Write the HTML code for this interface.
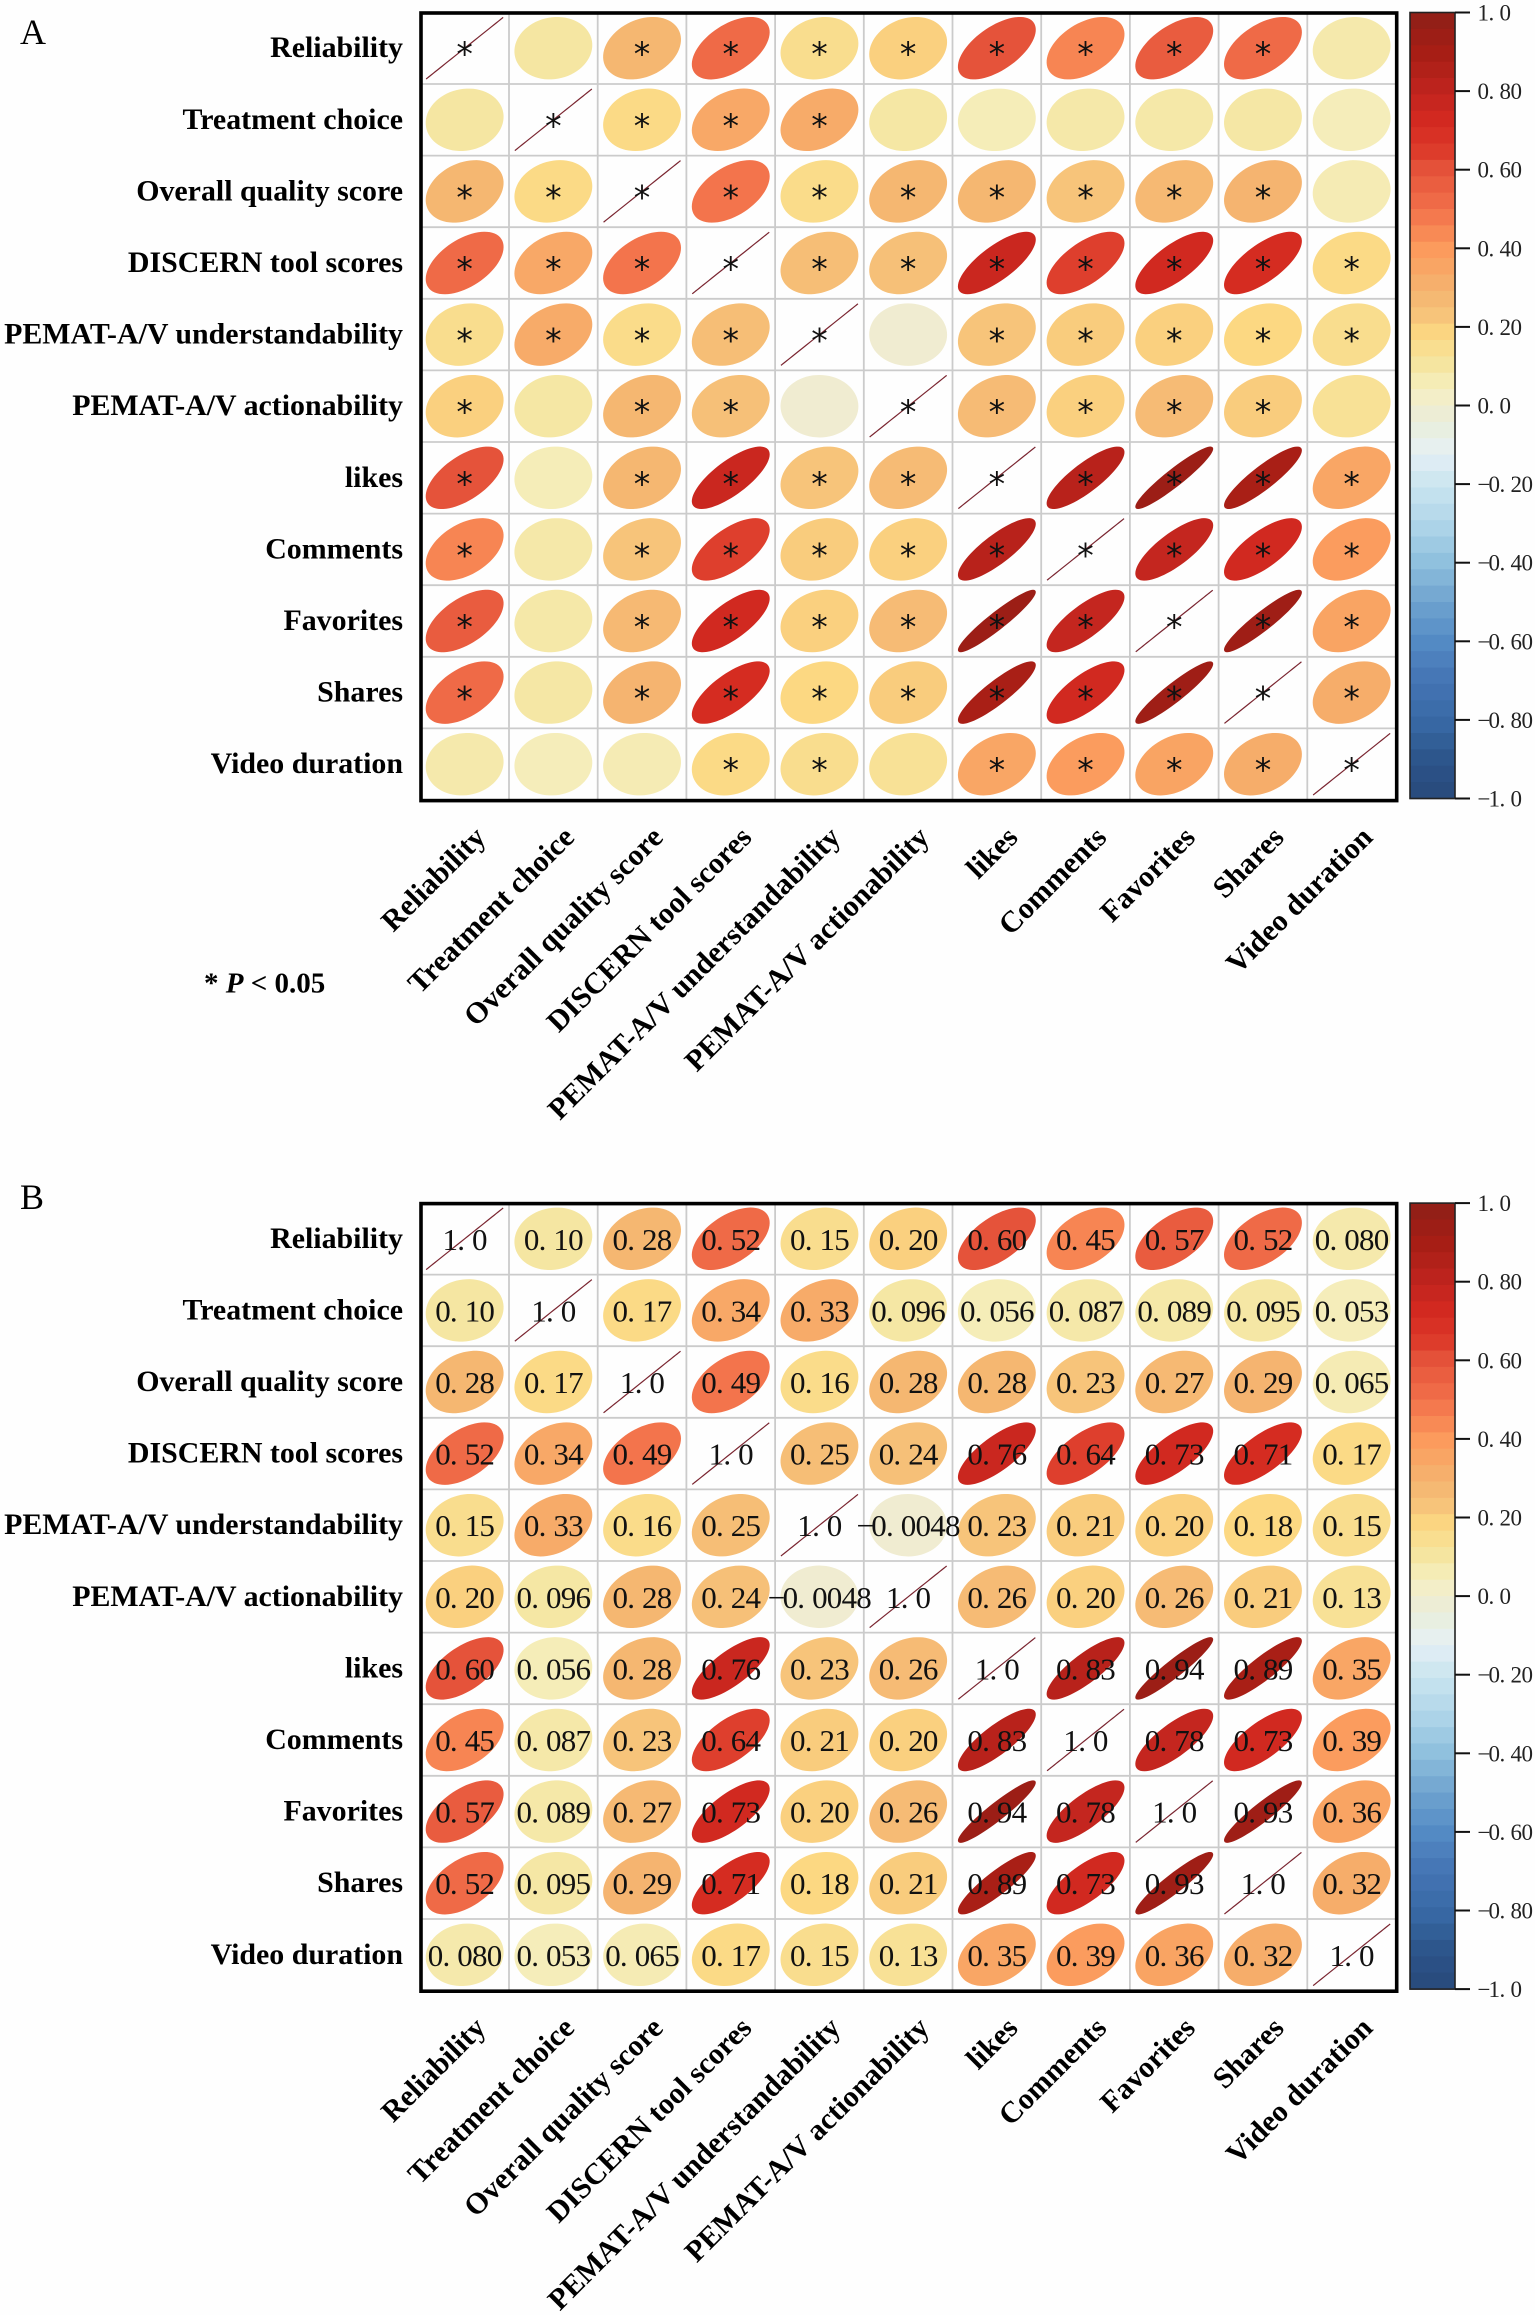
<!DOCTYPE html>
<html lang="en">
<head>
<meta charset="utf-8">
<title>Correlation matrices A and B</title>
<style>
html,body{margin:0;padding:0;background:#fff;}
svg{display:block;}
text{font-family:"Liberation Serif",serif;fill:#000;}
.row-label,.col-label{font-weight:bold;font-size:29.9px;}
.p-note{font-weight:bold;font-size:29px;}
.panel-letter{font-size:36px;}
.value{font-size:31px;fill:#111;}
.cb-label{font-size:23px;fill:#222;}
.star{font-family:"DejaVu Sans",sans-serif;font-size:33px;fill:#111;}
</style>
</head>
<body>
<svg id="figure" xmlns="http://www.w3.org/2000/svg" width="1535" height="2315" viewBox="0 0 1535 2315">
  <rect x="0" y="0" width="1535" height="2315" fill="#fefefe"/>
  <text class="panel-letter" x="20" y="44">A</text>
  <text class="panel-letter" x="20" y="1209">B</text>
  <text class="p-note" x="204" y="992.5">* <tspan font-style="italic">P</tspan> &lt; 0.05</text>
</svg>
<script>
const variables = ["Reliability","Treatment choice","Overall quality score","DISCERN tool scores","PEMAT-A/V understandability","PEMAT-A/V actionability","likes","Comments","Favorites","Shares","Video duration"];
const rReliability = [1.0,0.10,0.28,0.52,0.15,0.20,0.60,0.45,0.57,0.52,0.080];
const rTreatment   = [0.10,1.0,0.17,0.34,0.33,0.096,0.056,0.087,0.089,0.095,0.053];
const rOverall     = [0.28,0.17,1.0,0.49,0.16,0.28,0.28,0.23,0.27,0.29,0.065];
const rDiscern     = [0.52,0.34,0.49,1.0,0.25,0.24,0.76,0.64,0.73,0.71,0.17];
const rUnderstand  = [0.15,0.33,0.16,0.25,1.0,-0.0048,0.23,0.21,0.20,0.18,0.15];
const rAction      = [0.20,0.096,0.28,0.24,-0.0048,1.0,0.26,0.20,0.26,0.21,0.13];
const rLikes       = [0.60,0.056,0.28,0.76,0.23,0.26,1.0,0.83,0.94,0.89,0.35];
const rComments    = [0.45,0.087,0.23,0.64,0.21,0.20,0.83,1.0,0.78,0.73,0.39];
const rFavorites   = [0.57,0.089,0.27,0.73,0.20,0.26,0.94,0.78,1.0,0.93,0.36];
const rShares      = [0.52,0.095,0.29,0.71,0.18,0.21,0.89,0.73,0.93,1.0,0.32];
const rDuration    = [0.080,0.053,0.065,0.17,0.15,0.13,0.35,0.39,0.36,0.32,1.0];
const correlationRows = [rReliability,rTreatment,rOverall,rDiscern,rUnderstand,rAction,rLikes,rComments,rFavorites,rShares,rDuration];
const significanceRows = ["*.********.",".****......","**********.","***********","*****.*****","*.**.*****.","*.*********","*.*********","*.*********","*.*********","...**.*****"];
const colorbarTicks = [1,0.8,0.6,0.4,0.2,0,-0.2,-0.4,-0.6,-0.8,-1];
const colorbarTickLabels = ["1.0","0.80","0.60","0.40","0.20","0.0","−0.20","−0.40","−0.60","−0.80","−1.0"];
const colormapValues = [1,0.9,0.8,0.72,0.65,0.6,0.5,0.4,0.3,0.24,0.18,0.1,0.04,0,-0.05,-0.1,-0.15,-0.2,-0.3,-0.4,-0.5,-0.6,-0.7,-0.8,-0.9,-1];
const colormapColors = ["#8e1f17","#a61e15","#bf241e","#d42a20","#dc3a2a","#e5533a","#f2704a","#fc9a5c","#f5b26e","#f6c078","#fcd882","#f5e6a2","#f5efc0","#f1ecd0","#e8eedd","#e8f0ee","#dcecf4","#cbe5ef","#b0d6ea","#8fc0dd","#6fa3cf","#548bc5","#4474b4","#386aa6","#2d558b","#28497a"];

const SVG_NS = "http://www.w3.org/2000/svg";
const figure = document.getElementById("figure");
const plotLeft = 420.3, colWidth = 88.7, rowHeight = 71.6, plotRight = plotLeft + 11 * colWidth;
const cbLeft = 1410, cbRight = 1455, cbHeight = 786;

function xScale(col){ return plotLeft + colWidth * (col + 0.5); }
function hex2rgb(h){ return [1,3,5].map(function(i){ return parseInt(h.substr(i,2),16); }); }
function colorFor(v){
  for (let i = 0; i < colormapValues.length - 1; i++) {
    if (v <= colormapValues[i] && v >= colormapValues[i+1]) {
      const t = (colormapValues[i] - v) / (colormapValues[i] - colormapValues[i+1]);
      const a = hex2rgb(colormapColors[i]), b = hex2rgb(colormapColors[i+1]);
      return "rgb(" + a.map(function(c,k){ return Math.round(c + (b[k]-c)*t); }).join(",") + ")";
    }
  }
  return v > 1 ? colormapColors[0] : colormapColors[colormapColors.length-1];
}
function ellipsePath(cx, cy, r){
  const ax = 0.434 * colWidth, ay = 0.43 * rowHeight;
  const d = Math.acos(Math.max(-1, Math.min(1, r)));
  const pts = [];
  for (let k = 0; k < 72; k++) {
    const t = k / 72 * 2 * Math.PI;
    pts.push((cx + ax * Math.cos(t + d / 2)).toFixed(2) + " " + (cy - ay * Math.cos(t - d / 2)).toFixed(2));
  }
  return "M" + pts.join("L") + "Z";
}
function spacedPositions(str, startX, step){
  return Array.from(str).map(function(ch, i){ return (startX + i * step).toFixed(1); }).join(" ");
}
function formatValue(v){
  return v.toPrecision(2).replace("-", "−");
}

function drawPanel(top, panelName, showValues){
  const yScale = function(row){ return top + rowHeight * (row + 0.5); };
  const plotBottom = top + 11 * rowHeight;
  const panel = document.createElementNS(SVG_NS, "g");
  
  
  figure.appendChild(panel);

  for (let i = 1; i < 11; i++) {
    const v = document.createElementNS(SVG_NS, "line");
    v.setAttribute("x1", plotLeft + i * colWidth);
    v.setAttribute("x2", plotLeft + i * colWidth);
    v.setAttribute("y1", top);
    v.setAttribute("y2", plotBottom);
    v.setAttribute("stroke", "#cbcbcb");
    v.setAttribute("stroke-width", "1.8");
    
    
    panel.appendChild(v);
    const h = document.createElementNS(SVG_NS, "line");
    h.setAttribute("x1", plotLeft);
    h.setAttribute("x2", plotRight);
    h.setAttribute("y1", top + i * rowHeight);
    h.setAttribute("y2", top + i * rowHeight);
    h.setAttribute("stroke", "#cbcbcb");
    h.setAttribute("stroke-width", "1.8");
    
    
    panel.appendChild(h);
  }

  correlationRows.forEach(function(values, row){
    values.forEach(function(r, col){
      const e = document.createElementNS(SVG_NS, "path");
      e.setAttribute("d", ellipsePath(xScale(col), yScale(row), r));
      e.setAttribute("fill", colorFor(r));
      e.setAttribute("stroke", r >= 0.999 ? "#7a2530" : colorFor(r));
      e.setAttribute("stroke-width", r >= 0.999 ? "1.2" : "0.9");
      
      
      panel.appendChild(e);
    });
  });

  correlationRows.forEach(function(values, row){
    values.forEach(function(r, col){
      if (showValues) {
        const label = formatValue(r);
        const t = document.createElementNS(SVG_NS, "text");
        const width = Array.from(label).length * 14.75;
        t.setAttribute("class", "value");
        t.setAttribute("x", spacedPositions(label, xScale(col) - width / 2, 14.75));
        t.setAttribute("y", yScale(row) + 11);
        
        
        t.textContent = label;
        panel.appendChild(t);
      } else if (significanceRows[row].charAt(col) === "*") {
        const s = document.createElementNS(SVG_NS, "text");
        s.setAttribute("class", "star");
        s.setAttribute("x", xScale(col));
        s.setAttribute("y", yScale(row) + 17.5);
        s.setAttribute("text-anchor", "middle");
        
        
        s.textContent = "*";
        panel.appendChild(s);
      }
    });
  });

  const frame = document.createElementNS(SVG_NS, "rect");
  frame.setAttribute("x", plotLeft + 0.7);
  frame.setAttribute("y", top + 0.6);
  frame.setAttribute("width", plotRight - plotLeft);
  frame.setAttribute("height", bottomOffset(top) - top);
  frame.setAttribute("fill", "none");
  frame.setAttribute("stroke", "#000");
  frame.setAttribute("stroke-width", "3.6");
  
  
  panel.appendChild(frame);

  variables.forEach(function(name, i){
    const rl = document.createElementNS(SVG_NS, "text");
    rl.setAttribute("class", "row-label");
    rl.setAttribute("x", 403);
    rl.setAttribute("y", yScale(i) + 9);
    rl.setAttribute("text-anchor", "end");
    
    
    rl.textContent = name;
    panel.appendChild(rl);

    const cl = document.createElementNS(SVG_NS, "text");
    const ax = xScale(i) + 22.5, ay = plotBottom + 39;
    cl.setAttribute("class", "col-label");
    cl.setAttribute("text-anchor", "end");
    cl.setAttribute("transform", "translate(" + ax + " " + ay + ") rotate(-45)");
    
    
    cl.textContent = name;
    panel.appendChild(cl);
  });

  drawColorbar(panel, top);
}
function bottomOffset(top){ return top + 11 * rowHeight; }

function drawColorbar(panel, top){
  const barTop = top + 0.1;
  const cbScale = function(v){ return barTop + (1 - v) / 2 * cbHeight; };
  const bands = 48;
  for (let b = 0; b < bands; b++) {
    const vHigh = 1 - 2 * b / bands;
    const vMid = vHigh - 1 / bands;
    const band = document.createElementNS(SVG_NS, "rect");
    band.setAttribute("x", cbLeft);
    band.setAttribute("y", cbScale(vHigh));
    band.setAttribute("width", cbRight - cbLeft);
    band.setAttribute("height", cbHeight / bands + 0.6);
    band.setAttribute("fill", colorFor(vMid));
    
    
    panel.appendChild(band);
  }
  const outline = document.createElementNS(SVG_NS, "rect");
  outline.setAttribute("x", cbLeft);
  outline.setAttribute("y", barTop);
  outline.setAttribute("width", cbRight - cbLeft);
  outline.setAttribute("height", cbHeight);
  outline.setAttribute("fill", "none");
  outline.setAttribute("stroke", "#222");
  outline.setAttribute("stroke-width", "1.6");
  
  
  panel.appendChild(outline);

  colorbarTicks.forEach(function(v, i){
    const tick = document.createElementNS(SVG_NS, "line");
    tick.setAttribute("x1", cbRight);
    tick.setAttribute("x2", 1470);
    tick.setAttribute("y1", cbScale(v));
    tick.setAttribute("y2", cbScale(v));
    tick.setAttribute("stroke", "#111");
    tick.setAttribute("stroke-width", "2");
    
    
    panel.appendChild(tick);

    const t = document.createElementNS(SVG_NS, "text");
    t.setAttribute("class", "cb-label");
    t.setAttribute("x", spacedPositions(colorbarTickLabels[i], 1477.5, 11));
    t.setAttribute("y", cbScale(v) + 8);
    
    
    t.textContent = colorbarTickLabels[i];
    panel.appendChild(t);
  });
}

drawPanel(12.4, "a", false);
drawPanel(1203, "b", true);
</script>
</body>
</html>
